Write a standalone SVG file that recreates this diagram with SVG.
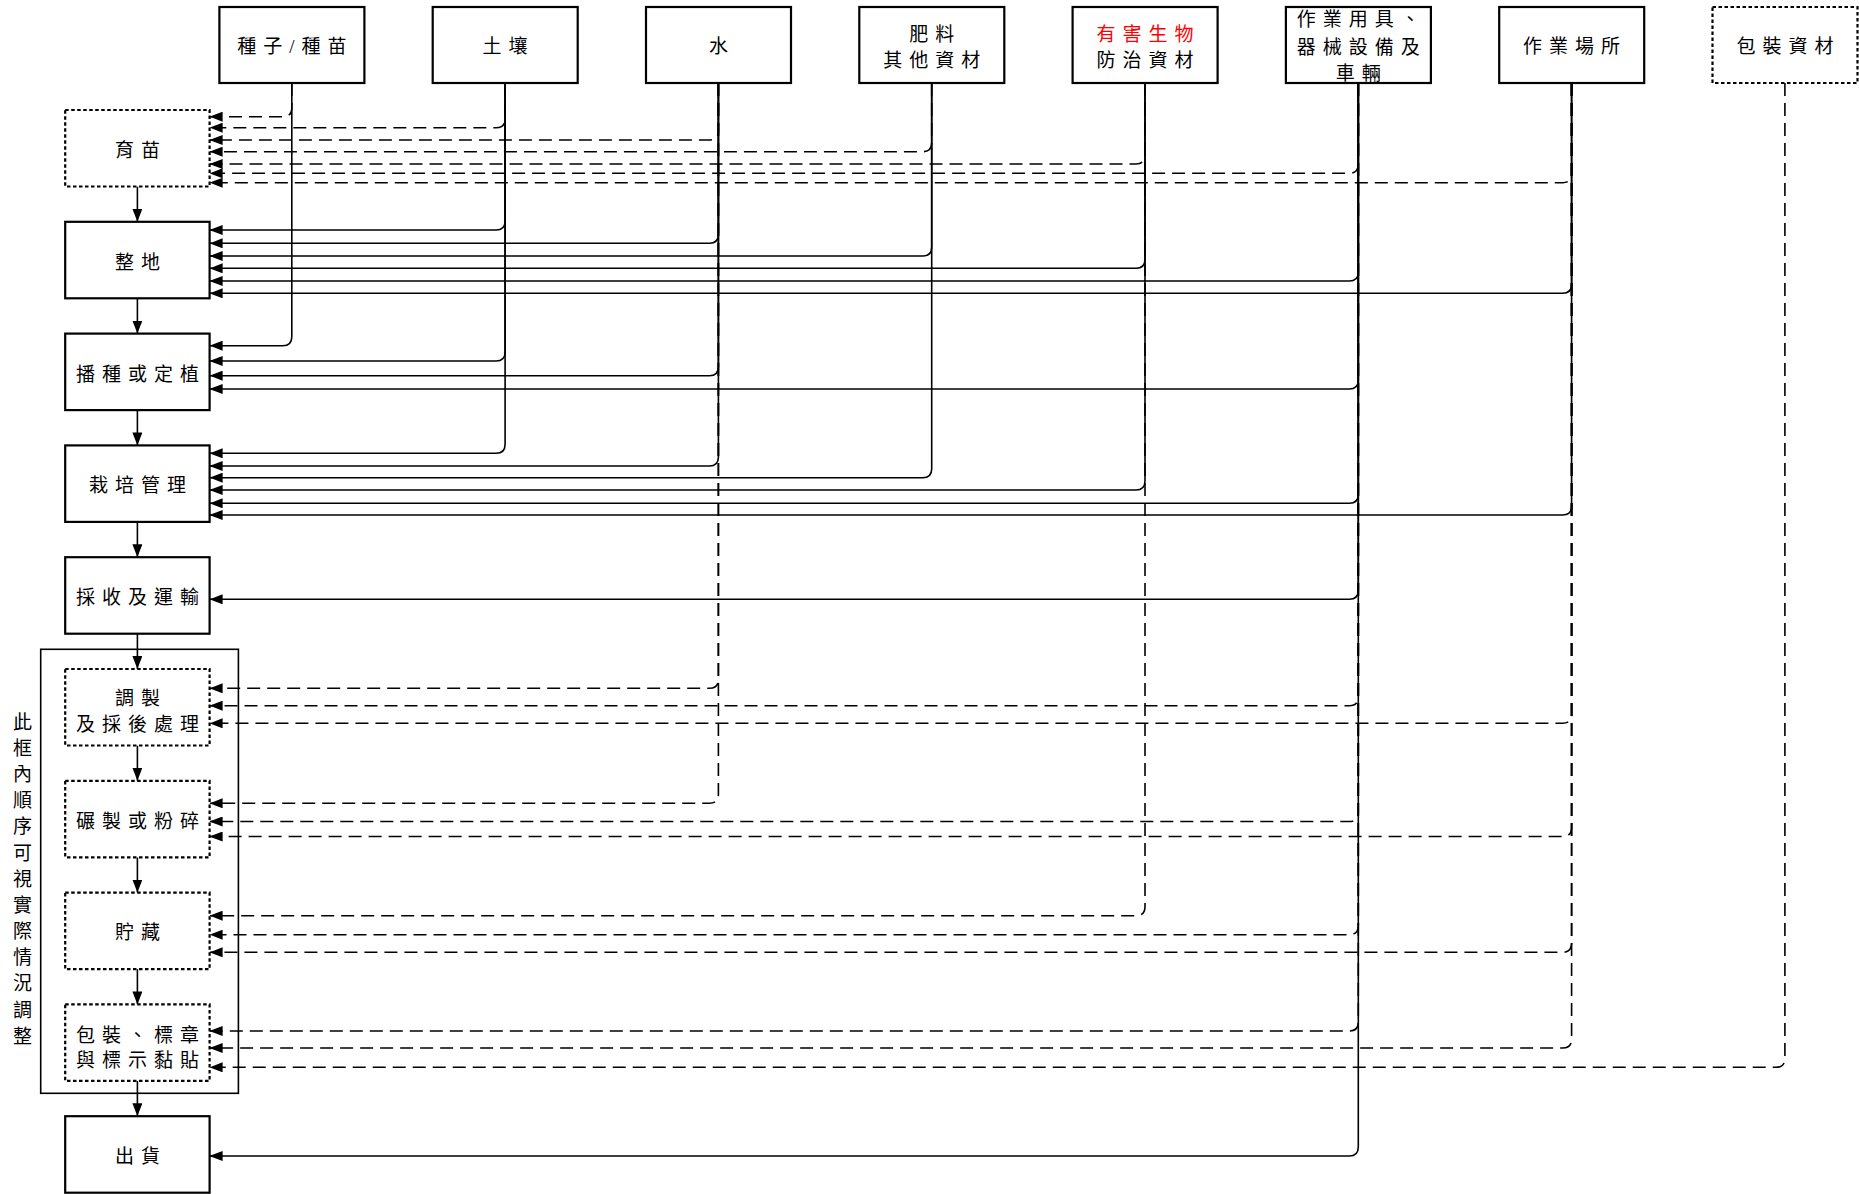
<svg xmlns="http://www.w3.org/2000/svg" width="1859" height="1194" viewBox="0 0 1859 1194">
<style>
.box{fill:#fff;stroke:#000;stroke-width:2.2}
.dot{stroke-dasharray:3.5 2.5}
.cont{fill:none;stroke:#000;stroke-width:1.6}
.c{fill:none;stroke:#000;stroke-width:1.6;marker-end:url(#ah)}
.d{stroke-dasharray:13 7}
.t{font-family:'Liberation Serif','Noto Sans CJK TC',serif;font-size:19px;font-weight:400;letter-spacing:7px;text-anchor:middle;dominant-baseline:central;fill:#000}
.v{font-family:'Liberation Serif','Noto Sans CJK TC',serif;font-size:19px;font-weight:400;text-anchor:middle;dominant-baseline:central;fill:#000}
.red{fill:#ff0000}
</style>
<defs>
<marker id="ah" viewBox="0 0 13 10" refX="13" refY="5" markerWidth="13" markerHeight="10" markerUnits="userSpaceOnUse" orient="auto"><path d="M0,0L13,5L0,10z" fill="#000"/></marker>
</defs>
<rect width="1859" height="1194" fill="#fff"/>

<g id="container">
<rect class="cont" x="40.7" y="649.3" width="197.7" height="444"/>
<text class="v"><tspan x="22.5" y="721.7">此</tspan><tspan x="22.5" y="747.9">框</tspan><tspan x="22.5" y="774">內</tspan><tspan x="22.5" y="800.2">順</tspan><tspan x="22.5" y="826.4">序</tspan><tspan x="22.5" y="852.5">可</tspan><tspan x="22.5" y="878.7">視</tspan><tspan x="22.5" y="904.9">實</tspan><tspan x="22.5" y="931.1">際</tspan><tspan x="22.5" y="957.2">情</tspan><tspan x="22.5" y="983.4">況</tspan><tspan x="22.5" y="1009.6">調</tspan><tspan x="22.5" y="1035.7">整</tspan></text>
</g>

<g id="connectors">
<path class="c" d="M137.4,186.5V221.8"/>
<path class="c" d="M137.4,298.3V333.6"/>
<path class="c" d="M137.4,410.1V445.4"/>
<path class="c" d="M137.4,521.9V557.2"/>
<path class="c" d="M137.4,633.7V669"/>
<path class="c" d="M137.4,745.5V780.8"/>
<path class="c" d="M137.4,857.3V892.6"/>
<path class="c" d="M137.4,969.1V1004.4"/>
<path class="c" d="M137.4,1080.9V1116.2"/>
<path class="c d" d="M291.8,83V107.7Q291.8,116.7 282.8,116.7H209.6"/>
<path class="c d" d="M505.1,83V118.7Q505.1,127.7 496.1,127.7H209.6"/>
<path class="c d" d="M718.4,83V131Q718.4,140 709.4,140H209.6"/>
<path class="c d" d="M931.7,83V142.7Q931.7,151.7 922.7,151.7H209.6"/>
<path class="c d" d="M1145,83V155Q1145,164 1136,164H209.6"/>
<path class="c d" d="M1358.3,83V164.3Q1358.3,173.3 1349.3,173.3H209.6"/>
<path class="c d" d="M1571.6,83V173.7Q1571.6,182.7 1562.6,182.7H209.6"/>
<path class="c d" d="M718.4,83V679.3Q718.4,688.3 709.4,688.3H209.6"/>
<path class="c d" d="M1358.3,83V696.7Q1358.3,705.7 1349.3,705.7H209.6"/>
<path class="c d" d="M1571.6,83V714.3Q1571.6,723.3 1562.6,723.3H209.6"/>
<path class="c d" d="M718.4,83V794.3Q718.4,803.3 709.4,803.3H209.6"/>
<path class="c d" d="M1358.3,83V812.5Q1358.3,821.5 1349.3,821.5H209.6"/>
<path class="c d" d="M1571.6,83V827.5Q1571.6,836.5 1562.6,836.5H209.6"/>
<path class="c d" d="M1145,83V906.7Q1145,915.7 1136,915.7H209.6"/>
<path class="c d" d="M1358.3,83V925.7Q1358.3,934.7 1349.3,934.7H209.6"/>
<path class="c d" d="M1571.6,83V943.3Q1571.6,952.3 1562.6,952.3H209.6"/>
<path class="c d" d="M1358.3,83V1022Q1358.3,1031 1349.3,1031H209.6"/>
<path class="c d" d="M1571.6,83V1039Q1571.6,1048 1562.6,1048H209.6"/>
<path class="c d" d="M1784.9,83V1058.3Q1784.9,1067.3 1775.9,1067.3H209.6"/>
<path class="c" d="M505.1,83V221Q505.1,230 496.1,230H209.6"/>
<path class="c" d="M718.4,83V234.3Q718.4,243.3 709.4,243.3H209.6"/>
<path class="c" d="M931.7,83V247Q931.7,256 922.7,256H209.6"/>
<path class="c" d="M1145,83V259.3Q1145,268.3 1136,268.3H209.6"/>
<path class="c" d="M1358.3,83V272Q1358.3,281 1349.3,281H209.6"/>
<path class="c" d="M1571.6,83V284.3Q1571.6,293.3 1562.6,293.3H209.6"/>
<path class="c" d="M291.8,83V336.7Q291.8,345.7 282.8,345.7H209.6"/>
<path class="c" d="M505.1,83V352Q505.1,361 496.1,361H209.6"/>
<path class="c" d="M718.4,83V366.7Q718.4,375.7 709.4,375.7H209.6"/>
<path class="c" d="M1358.3,83V380Q1358.3,389 1349.3,389H209.6"/>
<path class="c" d="M505.1,83V444.3Q505.1,453.3 496.1,453.3H209.6"/>
<path class="c" d="M718.4,83V457Q718.4,466 709.4,466H209.6"/>
<path class="c" d="M931.7,83V468.7Q931.7,477.7 922.7,477.7H209.6"/>
<path class="c" d="M1145,83V481Q1145,490 1136,490H209.6"/>
<path class="c" d="M1358.3,83V494.3Q1358.3,503.3 1349.3,503.3H209.6"/>
<path class="c" d="M1571.6,83V506Q1571.6,515 1562.6,515H209.6"/>
<path class="c" d="M1358.3,83V590.3Q1358.3,599.3 1349.3,599.3H209.6"/>
<path class="c" d="M1358.3,83V1147Q1358.3,1156 1349.3,1156H209.6"/>
</g>

<g id="src-seed"><rect class="box" x="219.4" y="7" width="145" height="76"/><text class="t" x="295.4" y="46.5">種子/種苗</text></g>
<g id="src-soil"><rect class="box" x="432.7" y="7" width="145" height="76"/><text class="t" x="508.6" y="46.5">土壤</text></g>
<g id="src-water"><rect class="box" x="646" y="7" width="145" height="76"/><text class="t" x="721.9" y="46.5">水</text></g>
<g id="src-fert"><rect class="box" x="859.3" y="7" width="145" height="76"/><text class="t" x="935.2" y="34">肥料</text><text class="t" x="935.2" y="60">其他資材</text></g>
<g id="src-pest"><rect class="box" x="1072.6" y="7" width="145" height="76"/><text class="t red" x="1148.5" y="34">有害生物</text><text class="t" x="1148.5" y="60">防治資材</text></g>
<g id="src-tools"><rect class="box" x="1285.9" y="7" width="145" height="76"/><text class="t" x="1361.8" y="19">作業用具、</text><text class="t" x="1361.8" y="47">器械設備及</text><text class="t" x="1361.8" y="73">車輛</text></g>
<g id="src-site"><rect class="box" x="1499.2" y="7" width="145" height="76"/><text class="t" x="1575.1" y="46.5">作業場所</text></g>
<g id="src-pack"><rect class="box dot" x="1712.5" y="7" width="145" height="76"/><text class="t" x="1788.4" y="46.5">包裝資材</text></g>

<g id="p-seedling"><rect class="box dot" x="65.2" y="110" width="144.4" height="76.5"/><text class="t" x="140.9" y="150">育苗</text></g>
<g id="p-land"><rect class="box" x="65.2" y="221.8" width="144.4" height="76.5"/><text class="t" x="140.9" y="262">整地</text></g>
<g id="p-sow"><rect class="box" x="65.2" y="333.6" width="144.4" height="76.5"/><text class="t" x="140.9" y="374">播種或定植</text></g>
<g id="p-cult"><rect class="box" x="65.2" y="445.4" width="144.4" height="76.5"/><text class="t" x="140.9" y="485.6">栽培管理</text></g>
<g id="p-harvest"><rect class="box" x="65.2" y="557.2" width="144.4" height="76.5"/><text class="t" x="140.9" y="597.4">採收及運輸</text></g>
<g id="p-prep"><rect class="box dot" x="65.2" y="669" width="144.4" height="76.5"/><text class="t" x="140.9" y="698.5">調製</text><text class="t" x="140.9" y="724.5">及採後處理</text></g>
<g id="p-mill"><rect class="box dot" x="65.2" y="780.8" width="144.4" height="76.5"/><text class="t" x="140.9" y="821">碾製或粉碎</text></g>
<g id="p-store"><rect class="box dot" x="65.2" y="892.6" width="144.4" height="76.5"/><text class="t" x="140.9" y="932.8">貯藏</text></g>
<g id="p-pack"><rect class="box dot" x="65.2" y="1004.4" width="144.4" height="76.5"/><text class="t" x="140.9" y="1035.5">包裝、標章</text><text class="t" x="140.9" y="1060.5">與標示黏貼</text></g>
<g id="p-ship"><rect class="box" x="65.2" y="1116.2" width="144.4" height="76.5"/><text class="t" x="140.9" y="1156.4">出貨</text></g>
</svg>
